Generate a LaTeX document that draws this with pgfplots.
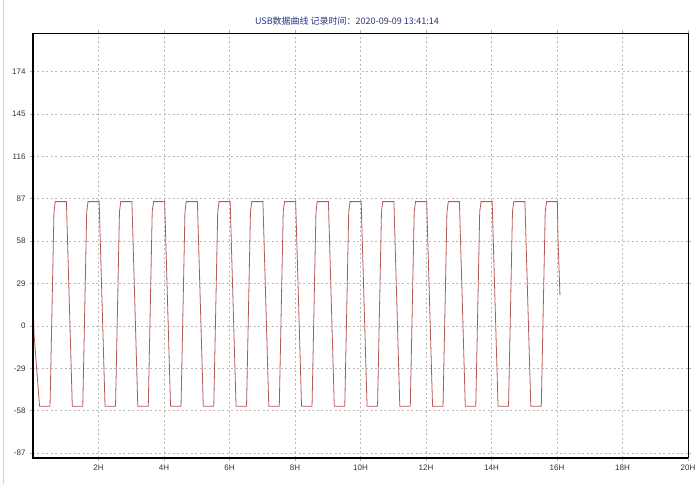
\documentclass[border=0pt]{standalone}
\usepackage{pgfplots}
\pgfplotsset{compat=1.18}
\usepackage{fontspec}
\setmainfont{Liberation Sans}
\newfontfamily\cjk{Noto Sans CJK SC}
\definecolor{curve}{RGB}{180,88,88}
\definecolor{titleblue}{RGB}{40,52,130}
\begin{document}
\begin{tikzpicture}[x=1pt,y=1pt]
\path[fill=white] (0,0) rectangle (700,483);
\draw[gray!35, line width=1pt] (3,0) -- (3,483);
\begin{axis}[
  at={(33pt,26pt)}, anchor=south west,
  scale only axis, width=655pt, height=424pt,
  xmin=0, xmax=20, ymin=-90, ymax=200,
  xtick={2,4,6,8,10,12,14,16,18,20},
  xticklabels={2H,4H,6H,8H,10H,12H,14H,16H,18H,20H},
  ytick={-87,-58,-29,0,29,58,87,116,145,174},
  grid=major,
  major grid style={dash pattern=on 2pt off 2.5pt, gray!55, line width=0.6pt},
  tick align=outside, major tick length=3pt,
  tick style={gray!60, line width=0.5pt},
  axis line style={black, line width=0.8pt},
  tick label style={font=\fontsize{8}{9}\selectfont, text=black!80},
  /pgf/number format/assume math mode=true,
  yticklabel style={xshift=-1pt},
  xticklabel style={yshift=-1pt},
  clip=true,
  after end axis/.code={
    \draw[black, line width=2pt] (rel axis cs:0,1) -- (rel axis cs:0,0) -- (rel axis cs:1,0);
  },
]
\addplot[curve, line width=0.8pt] coordinates {
(0,19) (0.03,-5) (0.20,-55) (0.52,-55) (0.64,78) (0.68,85) (1.02,85)
(1.20,-55) (1.52,-55) (1.64,78) (1.68,85) (2.02,85)
(2.20,-55) (2.52,-55) (2.64,78) (2.68,85) (3.02,85)
(3.20,-55) (3.52,-55) (3.64,78) (3.68,85) (4.02,85)
(4.20,-55) (4.52,-55) (4.64,78) (4.68,85) (5.02,85)
(5.20,-55) (5.52,-55) (5.64,78) (5.68,85) (6.02,85)
(6.20,-55) (6.52,-55) (6.64,78) (6.68,85) (7.02,85)
(7.20,-55) (7.52,-55) (7.64,78) (7.68,85) (8.02,85)
(8.20,-55) (8.52,-55) (8.64,78) (8.68,85) (9.02,85)
(9.20,-55) (9.52,-55) (9.64,78) (9.68,85) (10.02,85)
(10.20,-55) (10.52,-55) (10.64,78) (10.68,85) (11.02,85)
(11.20,-55) (11.52,-55) (11.64,78) (11.68,85) (12.02,85)
(12.20,-55) (12.52,-55) (12.64,78) (12.68,85) (13.02,85)
(13.20,-55) (13.52,-55) (13.64,78) (13.68,85) (14.02,85)
(14.20,-55) (14.52,-55) (14.64,78) (14.68,85) (15.02,85)
(15.20,-55) (15.52,-55) (15.64,78) (15.68,85) (16.01,85)
(16.03,60) (16.09,21)
};
\end{axis}
\node[font=\cjk\fontsize{9}{10}\selectfont, text=titleblue] at (347,462) {USB数据曲线\ 记录时间：2020-09-09 13:41:14};
\end{tikzpicture}
\end{document}
